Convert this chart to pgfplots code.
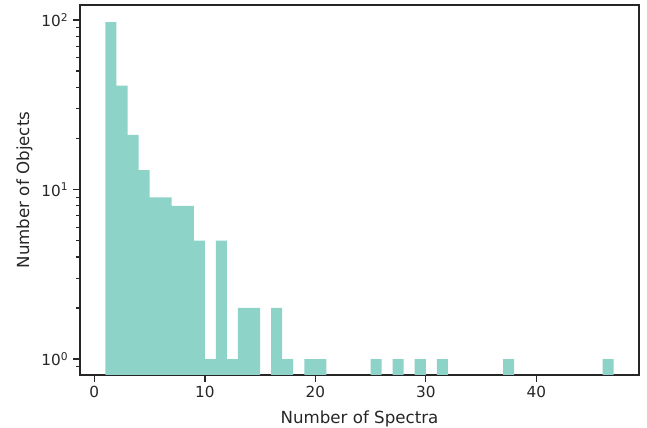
\documentclass[border=0pt]{standalone}
\usepackage{fontspec}
\setmainfont{DejaVu Sans}
\usepackage{pgfplots}
\pgfplotsset{compat=1.18}
\definecolor{barc}{HTML}{8DD3C7}
\definecolor{spine}{HTML}{262626}
\begin{document}
\begin{tikzpicture}
\begin{axis}[
  scale only axis, width=402.5pt, height=266.4pt,
  ymode=log, log origin=infty,
  xmin=-1.3, xmax=49.3, ymin=0.805, ymax=122.6,
  axis line style={spine, line width=1pt},
  every tick/.style={spine, line width=1pt},
  every minor tick/.style={spine, line width=0.8pt},
  tick align=outside, major tick length=4.8pt, minor tick length=2.8pt,
  xtick pos=left, ytick pos=left,
  xtick={0,10,20,30,40},
  ytick={1,10,100},
  yticklabels={10\textsuperscript{0},10\textsuperscript{1},10\textsuperscript{2}},
  minor ytick={0.9,2,3,4,5,6,7,8,9,20,30,40,50,60,70,80,90},
  /pgf/number format/assume math mode=true,
  ticklabel style={font=\fontsize{11}{13}\selectfont, text=spine},
  label style={font=\fontsize{12}{14}\selectfont, text=spine},
  xlabel={Number of Spectra},
  ylabel={Number of Objects},
  xlabel style={at={(axis description cs:0.5,-0.1324)}, anchor=base, inner sep=0pt},
  ylabel style={at={(axis description cs:-0.0912,0.5)}, anchor=base, inner sep=0pt, rotate=0},
  clip=true,
]
\addplot[ybar, bar width=1, fill=barc, draw=none] coordinates {
(1.5,97) (2.5,41) (3.5,21) (4.5,13) (5.5,9) (6.5,9) (7.5,8) (8.5,8) (9.5,5)
(10.5,1) (11.5,5) (12.5,1) (13.5,2) (14.5,2) (16.5,2) (17.5,1) (19.5,1) (20.5,1)
(25.5,1) (27.5,1) (29.5,1) (31.5,1) (37.5,1) (46.5,1)
};
\coordinate (SW) at (rel axis cs:0,0);
\coordinate (NE) at (rel axis cs:1,1);
\end{axis}
\pgfresetboundingbox
\useasboundingbox ([shift={(-57.6pt,-38.16pt)}]SW) rectangle ([shift={(5.76pt,3.6pt)}]NE);
\end{tikzpicture}
\end{document}
